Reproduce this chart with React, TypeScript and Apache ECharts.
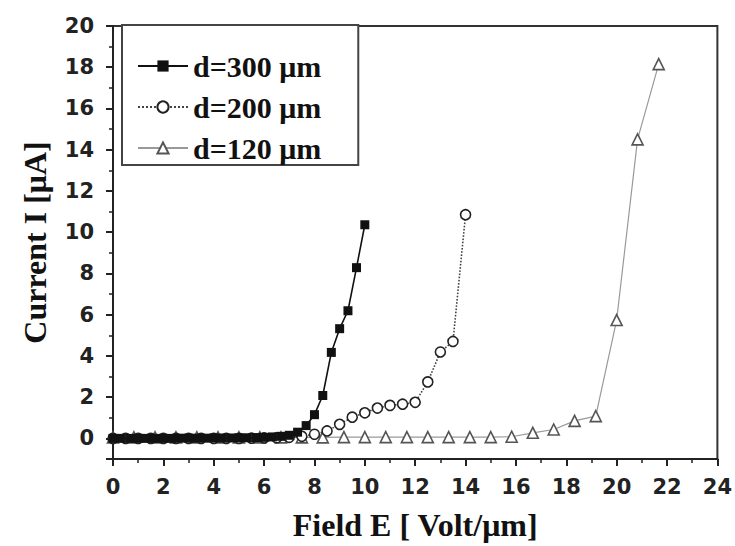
import React, { useEffect, useRef } from "react";
import * as echarts from "echarts";

const xTicks = [0, 2, 4, 6, 8, 10, 12, 14, 16, 18, 20, 22, 24];
const yTicks = [0, 2, 4, 6, 8, 10, 12, 14, 16, 18, 20];
const seriesNames = ["d=300 μm", "d=200 μm", "d=120 μm"];

const d300X = [0, 0.33, 0.67, 1.0, 1.33, 1.67, 2.0, 2.33, 2.67, 3.0, 3.33, 3.67, 4.0, 4.33, 4.67, 5.0, 5.33, 5.67, 6.0, 6.33, 6.67, 7.0, 7.33, 7.67, 8.0, 8.33, 8.67, 9.0, 9.33, 9.67, 10.0];
const d300Y = [0, 0, 0, 0, 0, 0, 0, 0, 0.01, 0.01, 0.01, 0.01, 0.02, 0.02, 0.02, 0.03, 0.03, 0.04, 0.05, 0.07, 0.1, 0.15, 0.3, 0.62, 1.15, 2.08, 4.17, 5.32, 6.19, 8.28, 10.36];

const d200X = [0, 0.5, 1.0, 1.5, 2.0, 2.5, 3.0, 3.5, 4.0, 4.5, 5.0, 5.5, 6.0, 6.5, 7.0, 7.5, 8.0, 8.5, 9.0, 9.5, 10.0, 10.5, 11.0, 11.5, 12.0, 12.5, 13.0, 13.5, 14.0];
const d200Y = [0, 0, 0, 0, 0, 0, 0, 0, 0, 0, 0, 0.01, 0.02, 0.03, 0.05, 0.1, 0.2, 0.36, 0.68, 1.03, 1.24, 1.47, 1.6, 1.66, 1.75, 2.74, 4.19, 4.7, 10.85];

const d120X = [0, 0.83, 1.67, 2.5, 3.33, 4.17, 5.0, 5.83, 6.67, 7.5, 8.33, 9.17, 10.0, 10.83, 11.67, 12.5, 13.33, 14.17, 15.0, 15.83, 16.67, 17.5, 18.33, 19.17, 20.0, 20.83, 21.67];
const d120Y = [0.05, 0.05, 0.05, 0.05, 0.05, 0.05, 0.05, 0.05, 0.05, 0.05, 0.05, 0.06, 0.06, 0.06, 0.06, 0.06, 0.06, 0.06, 0.06, 0.08, 0.27, 0.43, 0.85, 1.08, 5.74, 14.5, 18.15];

const zip = (xs: number[], ys: number[]) => xs.map((x, i) => [x, ys[i]]);

const serifBold = {
  fontFamily: "'Liberation Serif', 'Times New Roman', serif",
  fontWeight: "bold" as const,
  color: "#111",
};
const tickFont = {
  fontFamily: "'DejaVu Sans', sans-serif",
  fontWeight: "bold" as const,
  fontSize: 21,
  color: "#222",
};

export default function App() {
  const ref = useRef<HTMLDivElement>(null);
  useEffect(() => {
    if (!ref.current) return;
    const chart = echarts.init(ref.current, undefined, { renderer: "svg" });
    chart.setOption({
      animation: false,
      backgroundColor: "#fff",
      grid: {
        left: 113,
        right: 16,
        top: 26,
        bottom: 83,
        show: true,
        borderColor: "#333",
        borderWidth: 2,
        backgroundColor: "transparent",
      },
      legend: {
        data: seriesNames,
        orient: "vertical",
        left: 122,
        top: 25,
        padding: [26, 37, 2, 15],
        itemGap: 11,
        itemWidth: 50,
        itemHeight: 14,
        borderColor: "#444",
        borderWidth: 2,
        backgroundColor: "#fff",
        textStyle: { ...serifBold, fontSize: 30 },
      },
      xAxis: {
        type: "value",
        min: xTicks[0],
        max: xTicks[xTicks.length - 1],
        interval: 2,
        axisLine: { show: true, onZero: false, lineStyle: { color: "#222", width: 2 } },
        axisTick: { show: true, length: 7, lineStyle: { color: "#222", width: 2 } },
        minorTick: { show: true, splitNumber: 2, length: 4, lineStyle: { color: "#222", width: 1.5 } },
        splitLine: { show: false },
        minorSplitLine: { show: false },
        axisLabel: { ...tickFont, margin: 17 },
        name: "Field E [ Volt/μm]",
        nameLocation: "middle",
        nameGap: 50,
        nameTextStyle: { ...serifBold, fontSize: 32 },
      },
      yAxis: {
        type: "value",
        min: -1,
        max: yTicks[yTicks.length - 1],
        splitNumber: 10,
        minInterval: 2,
        maxInterval: 2,
        axisLine: { show: true, onZero: false, lineStyle: { color: "#222", width: 2 } },
        axisTick: { show: true, length: 7, lineStyle: { color: "#222", width: 2 } },
        minorTick: { show: true, splitNumber: 2, length: 4, lineStyle: { color: "#222", width: 1.5 } },
        splitLine: { show: false },
        minorSplitLine: { show: false },
        axisLabel: {
          ...tickFont,
          margin: 19,
          formatter: (v: number) => (yTicks.includes(v) ? String(v) : ""),
        },
        name: "Current I [μA]",
        nameLocation: "middle",
        nameGap: 62,
        nameTextStyle: { ...serifBold, fontSize: 32 },
      },
      series: [
        {
          name: seriesNames[0],
          type: "line",
          data: zip(d300X, d300Y),
          symbol: "rect",
          symbolSize: 9,
          itemStyle: { color: "#111" },
          lineStyle: { color: "#111", width: 1.6 },
          z: 4,
        },
        {
          name: seriesNames[1],
          type: "line",
          data: zip(d200X, d200Y),
          symbol: "circle",
          symbolSize: 10,
          itemStyle: { color: "#fff", borderColor: "#222", borderWidth: 1.6 },
          lineStyle: { color: "#444", width: 1.6, type: "dotted" },
          z: 3,
        },
        {
          name: seriesNames[2],
          type: "line",
          data: zip(d120X, d120Y),
          symbol: "triangle",
          symbolSize: 11,
          itemStyle: { color: "#fff", borderColor: "#555", borderWidth: 1.6 },
          lineStyle: { color: "#999", width: 1.2 },
          z: 2,
        },
      ],
    });
    return () => chart.dispose();
  }, []);
  return (
    <div
      ref={ref}
      style={{ position: "absolute", left: 0, top: 0, width: 735, height: 546 }}
    />
  );
}
